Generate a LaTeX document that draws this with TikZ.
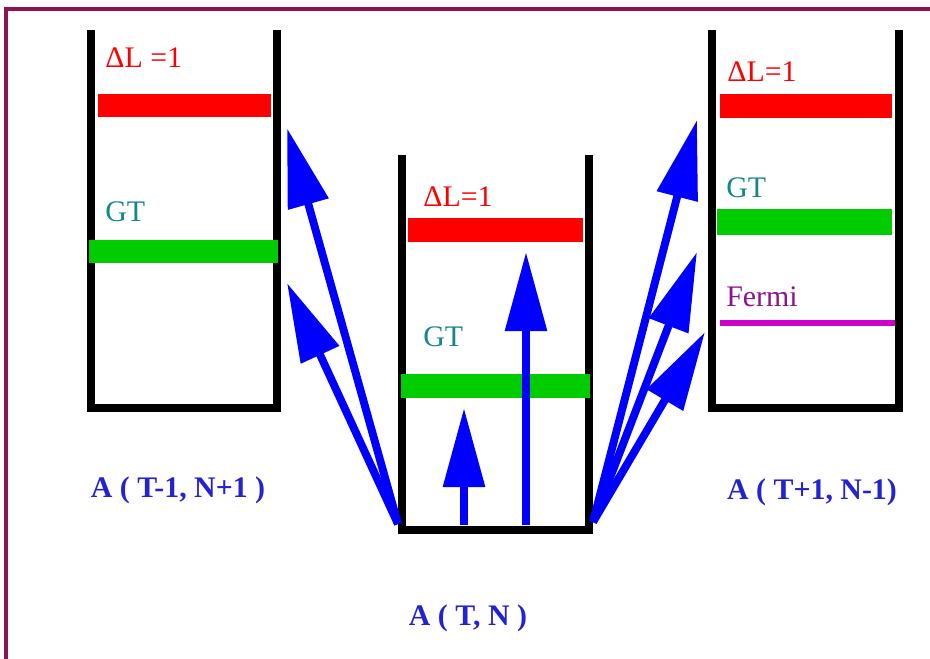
\documentclass[tikz,border=0pt]{standalone}
\usepackage{fontspec}
\setmainfont{Liberation Serif}
\usepackage{tikz}
\usetikzlibrary{arrows.meta}
\usetikzlibrary{positioning}
\definecolor{framecol}{RGB}{140,20,80}
\definecolor{levred}{RGB}{255,0,0}
\definecolor{levgreen}{RGB}{0,204,0}
\definecolor{levmag}{RGB}{204,0,204}
\definecolor{gtcol}{RGB}{20,135,135}
\definecolor{fermicol}{RGB}{140,20,140}
\definecolor{labcol}{RGB}{35,35,210}
\tikzset{wall/.style={line width=4pt, line cap=rect, line join=miter}}
\tikzset{jump/.style={draw=blue, line width=4.5pt, -{Triangle[length=45pt, width=23pt]}}}
\tikzset{levtext/.style={anchor=west, inner sep=0pt, font=\fontsize{17}{20}\selectfont}}
\tikzset{wellname/.style={text=labcol, inner sep=0pt, font=\fontsize{17}{20}\selectfont\bfseries}}

\begin{document}
\begin{tikzpicture}[x=0.02cm, y=-0.02cm]
        \useasboundingbox (0,0) rectangle (930,659);
        % Frame
        \draw[framecol, line width=1.8pt] (6,659) -- (6,9) -- (930,9);

        % Wells
        \draw[wall] (91,34) -- (91,408) -- (277,408) -- (277,34);
        \draw[wall] (402,159) -- (402,530) -- (589,530) -- (589,159);
        \draw[wall] (712,34) -- (712,408) -- (899,408) -- (899,34);

        % Levels
        \fill[levred] (98,94) rectangle (271,117);
        \fill[levgreen] (89,240) rectangle (278,263);
        \fill[levred] (408,218) rectangle (583,242);
        \fill[levgreen] (401,374) rectangle (590,398);
        \fill[levred] (720,94) rectangle (892,118);
        \fill[levgreen] (717,209) rectangle (892,235);
        \fill[levmag] (720,320) rectangle (895,326);

        % Level labels
        \node[levtext, text=levred] (dlL) at (105,58) {ΔL =1};
        \node[levtext, text=gtcol] (gtL) at (105,212) {GT};
        \node[levtext, text=levred] (dlM) at (423,197) {ΔL=1};
        \node[levtext, text=gtcol] (gtM) at (423,337) {GT};
        \node[levtext, text=levred] (dlR) at (727,72) {ΔL=1};
        \node[levtext, text=gtcol] (gtR) at (726,188) {GT};
        \node[levtext, text=fermicol] (fermiR) at (726,297) {Fermi};

        % Nuclei
        \node[wellname] (left) at (178,490) {A ( T-1, N+1 )};
        \node[wellname] (mid) at (468,618) {A ( T, N )};
        \node[wellname] (right) at (812,492) {A ( T+1, N-1)};

        % Transitions
        \coordinate (srcL) at (398,524);
        \coordinate (srcR) at (593,522);
        \coordinate (upL1) at (287,128);
        \coordinate (upL2) at (287,283);
        \coordinate (upR1) at (697,120);
        \coordinate (upR2) at (697,252);
        \coordinate (upR3) at (705,332);
        \coordinate (baseM1) at (464,525);
        \coordinate (tipM1) at (464,408);
        \coordinate (baseM2) at (526,525);
        \coordinate (tipM2) at (526,252);

        \draw[jump] (srcL) -- (upL1);
        \draw[jump] (srcL) -- (upL2);
        \draw[jump] (srcR) -- (upR1);
        \draw[jump] (srcR) -- (upR2);
        \draw[jump] (srcR) -- (upR3);
        \draw[jump] (baseM1) -- (tipM1);
        \draw[jump] (baseM2) -- (tipM2);
    \end{tikzpicture}
\end{document}
